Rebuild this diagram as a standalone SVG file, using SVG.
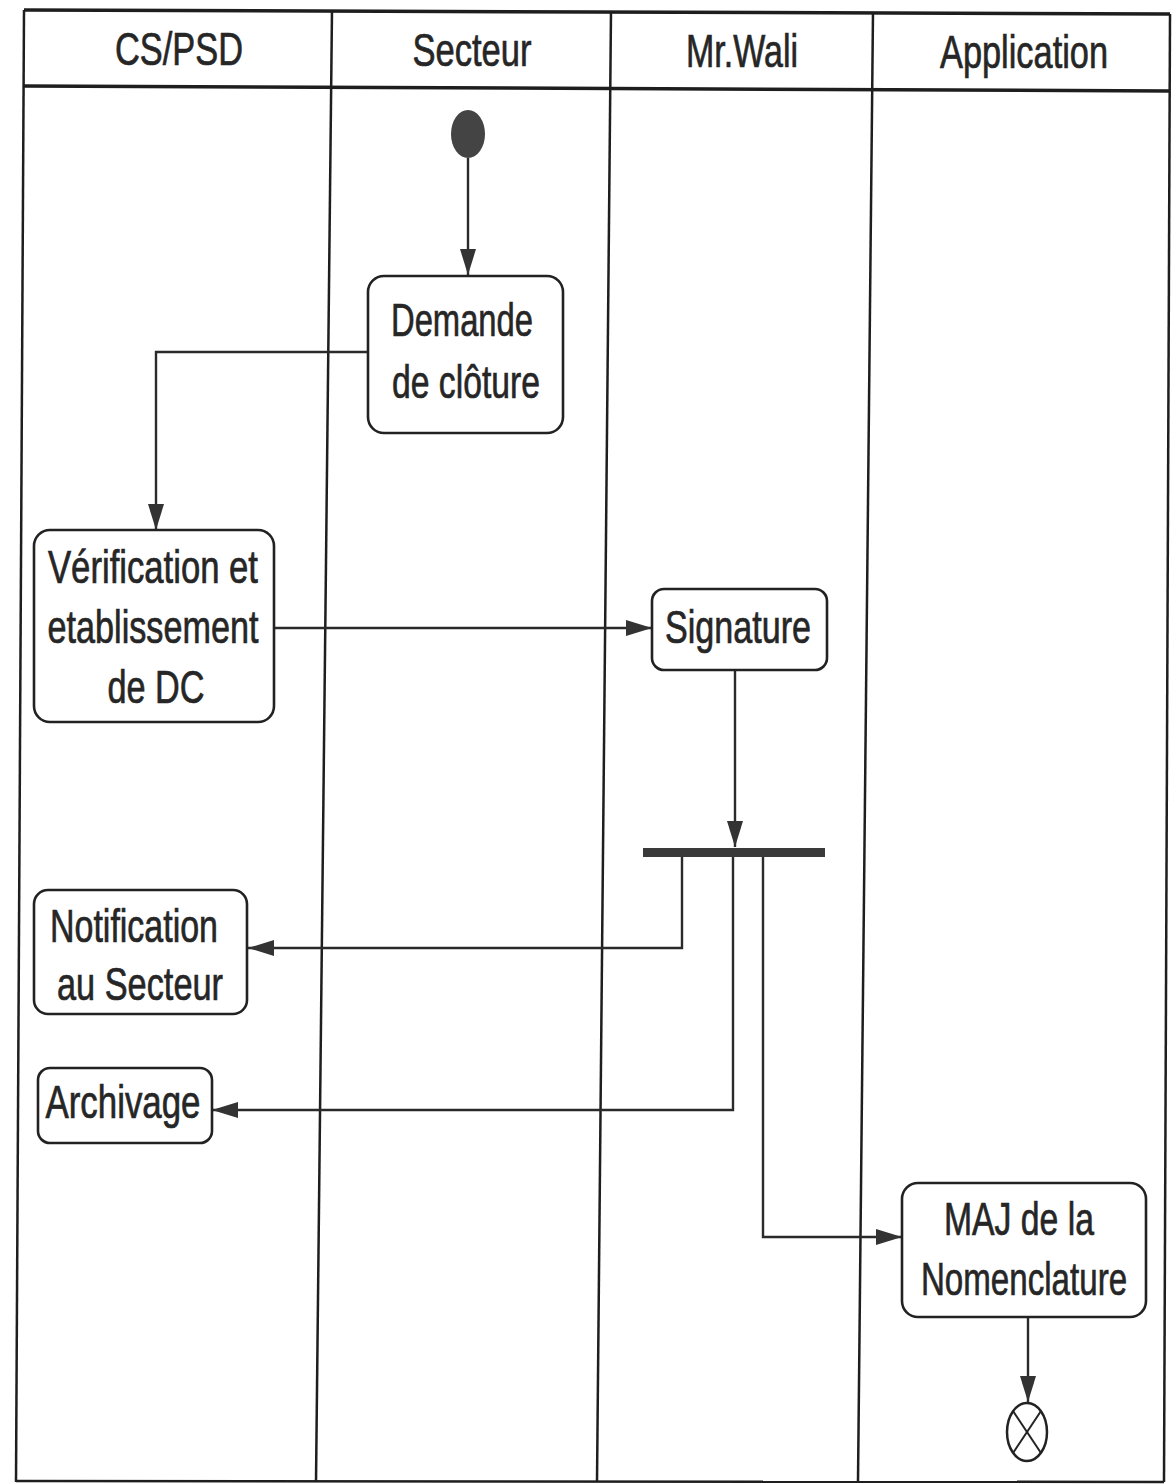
<svg xmlns="http://www.w3.org/2000/svg" width="1173" height="1484" viewBox="0 0 1173 1484">
<style>
.lane{stroke:#1e1e1e;stroke-width:2.5;fill:none}
.hdr{stroke:#1e1e1e;stroke-width:3.5;fill:none}
.box{fill:#fff;stroke:#222;stroke-width:2.6}
.t{font-family:"Liberation Sans",Arial,sans-serif;font-size:46px;fill:#262626;stroke:#262626;stroke-width:0.7;text-anchor:middle}
.c{stroke:#2a2a2a;stroke-width:2.4;fill:none;marker-end:url(#arr)}
</style>
<defs>
<marker id="arr" markerUnits="userSpaceOnUse" markerWidth="30" markerHeight="20" viewBox="-28 -10 30 20" refX="0" refY="0" orient="auto">
<polygon points="0,0 -26,-8 -26,8" fill="#333"/>
</marker>
</defs>
<rect width="1173" height="1484" fill="#fff"/>
<g id="swimlanes">
<line class="hdr" x1="24" y1="10" x2="1170" y2="14"/>
<line class="hdr" x1="24" y1="86" x2="1170" y2="91"/>
<line class="lane" x1="24" y1="10" x2="16" y2="1482"/>
<line class="lane" x1="332" y1="10" x2="316" y2="1482"/>
<line class="lane" x1="611" y1="11" x2="597" y2="1482"/>
<line class="lane" x1="873" y1="12" x2="858" y2="1482"/>
<line class="lane" x1="1170" y1="14" x2="1164" y2="1482"/>
<line class="lane" x1="16" y1="1481" x2="1164" y2="1482"/>
<text class="t" x="179" y="65" textLength="128" lengthAdjust="spacingAndGlyphs">CS/PSD</text>
<text class="t" x="472" y="66" textLength="119" lengthAdjust="spacingAndGlyphs">Secteur</text>
<text class="t" x="742" y="67" textLength="112" lengthAdjust="spacingAndGlyphs">Mr.Wali</text>
<text class="t" x="1024" y="68" textLength="168" lengthAdjust="spacingAndGlyphs">Application</text>
</g>
<g id="connectors">
<path class="c" d="M468,158 V275"/>
<path class="c" d="M367,352 H156 V530"/>
<path class="c" d="M275,628 H652"/>
<path class="c" d="M735,670 V847"/>
<path class="c" d="M682,857 V948 H248"/>
<path class="c" d="M733,857 V1110 H212"/>
<path class="c" d="M763,857 V1237 H902"/>
<path class="c" d="M1028,1317 V1402"/>
</g>
<g id="start">
<ellipse cx="468" cy="134" rx="17" ry="24" fill="#444"/>
</g>
<g id="demande">
<rect class="box" x="368" y="276" width="195" height="157" rx="16"/>
<text class="t" x="462" y="336" textLength="142" lengthAdjust="spacingAndGlyphs">Demande</text>
<text class="t" x="466" y="398" textLength="148" lengthAdjust="spacingAndGlyphs">de clôture</text>
</g>
<g id="verification">
<rect class="box" x="34" y="530" width="240" height="192" rx="16"/>
<text class="t" x="153" y="583" textLength="210" lengthAdjust="spacingAndGlyphs">Vérification et</text>
<text class="t" x="153" y="643" textLength="211" lengthAdjust="spacingAndGlyphs">etablissement</text>
<text class="t" x="156" y="703" textLength="97" lengthAdjust="spacingAndGlyphs">de DC</text>
</g>
<g id="signature">
<rect class="box" x="652" y="589" width="175" height="81" rx="12"/>
<text class="t" x="738" y="643" textLength="146" lengthAdjust="spacingAndGlyphs">Signature</text>
</g>
<g id="fork">
<rect x="643" y="848" width="182" height="9" fill="#3a3a3a"/>
</g>
<g id="notification">
<rect class="box" x="34" y="890" width="213" height="124" rx="14"/>
<text class="t" x="134" y="942" textLength="168" lengthAdjust="spacingAndGlyphs">Notification</text>
<text class="t" x="140" y="1000" textLength="166" lengthAdjust="spacingAndGlyphs">au Secteur</text>
</g>
<g id="archivage">
<rect class="box" x="38" y="1068" width="174" height="75" rx="12"/>
<text class="t" x="123" y="1118" textLength="155" lengthAdjust="spacingAndGlyphs">Archivage</text>
</g>
<g id="maj">
<rect class="box" x="902" y="1183" width="244" height="134" rx="16"/>
<text class="t" x="1019" y="1235" textLength="150" lengthAdjust="spacingAndGlyphs">MAJ de la</text>
<text class="t" transform="translate(1024,1295) scale(0.72,1)" x="0" y="0">Nomenclature</text>
</g>
<g id="final">
<ellipse cx="1027" cy="1432" rx="20" ry="29" fill="#fff" stroke="#222" stroke-width="2.5"/>
<line x1="1013" y1="1411" x2="1041" y2="1453" stroke="#222" stroke-width="2"/>
<line x1="1041" y1="1411" x2="1013" y2="1453" stroke="#222" stroke-width="2"/>
</g>
</svg>
